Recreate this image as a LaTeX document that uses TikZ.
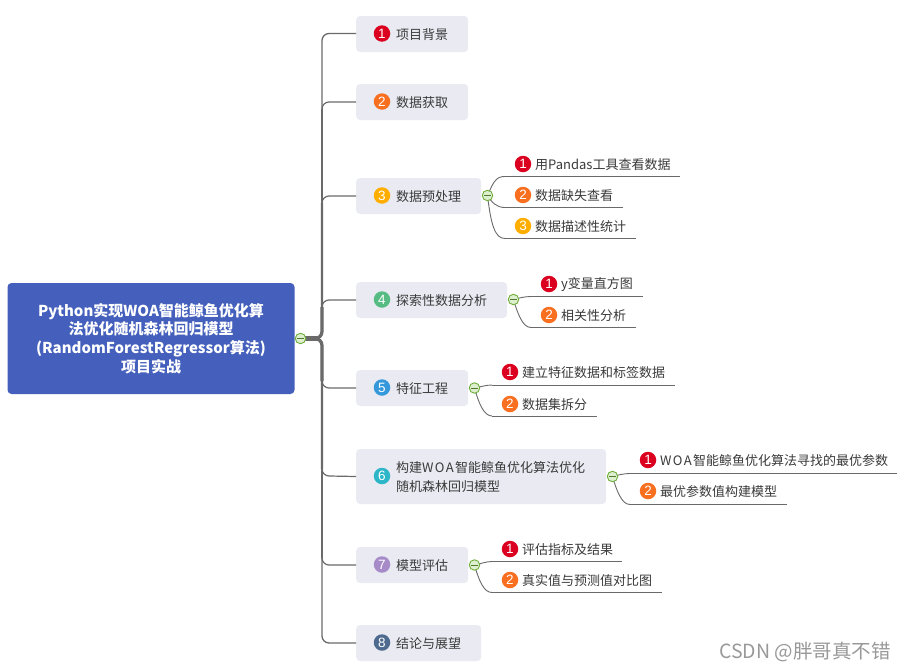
\documentclass[tikz,border=0pt]{standalone}
\usepackage{fontspec}
\setmainfont{Noto Sans CJK SC}
\newfontfamily\numfont{Liberation Sans}
\usetikzlibrary{calc}
\newcommand{\woaword}{W\kern1.3pt O\kern1.3pt A\kern1.3pt}
\definecolor{boxfill}{HTML}{E9EAF2}
\definecolor{rootfill}{HTML}{4460BC}
\definecolor{ink}{HTML}{3A3A3A}
\definecolor{wire}{HTML}{6A6A6A}
\definecolor{cA}{HTML}{DC0020}
\definecolor{cB}{HTML}{F86F20}
\definecolor{cC}{HTML}{FFAE00}
\definecolor{cD}{HTML}{56BC84}
\definecolor{cE}{HTML}{3498DB}
\definecolor{cF}{HTML}{2DB5C8}
\definecolor{cG}{HTML}{A78BC8}
\definecolor{cH}{HTML}{4F6A8F}
\definecolor{togline}{HTML}{6FAE3A}
\definecolor{togfill}{HTML}{DDEFCF}
\tikzset{
  x=1pt,y=-1pt,
  boxnode/.style={fill=boxfill,rounded corners=4pt,anchor=west,inner sep=0pt,minimum height=36pt},
  rootnode/.style={fill=rootfill,rounded corners=4pt,inner sep=0pt,minimum width=287pt,minimum height=111pt,
    text=white,align=center,font=\fontsize{15}{18.8}\selectfont\bfseries},
  lab/.style={anchor=west,inner sep=0pt,yshift=-0.8pt,text=ink,font=\fontsize{13}{19}\selectfont,align=left},
  badge/.style={circle,fill=#1,minimum size=16.5pt,inner sep=0pt,text=white,font=\numfont\fontsize{13.5}{13.5}\selectfont},
  toggle/.style={circle,draw=togline,fill=togfill,line width=0.9pt,minimum size=10.5pt,inner sep=0pt,
    path picture={\draw[draw=togline!70!black,line width=1pt] ([xshift=2pt]path picture bounding box.west) -- ([xshift=-2pt]path picture bounding box.east);}},
  leafwire/.style={draw=wire,line width=0.9pt},
  trunk/.style={draw=wire,line width=#1,rounded corners=7pt},
  spur/.style={draw=wire,line width=1.2pt},
}
\newcommand{\leafitem}[8]{%
  \node[badge=#6] (#1b) at (#2,#3) {#7};
  \node[lab] (#1t) at (#2+12,#3) {#8};
  \coordinate (#1s) at (#2-18,#4);
  \coordinate (#1e) at (#5,#4);
  \draw[leafwire] (#1s) -- (#1e);
}
\begin{document}
\begin{tikzpicture}
\useasboundingbox (0,0) rectangle (906,672);
\fill[white] (0,0) rectangle (906,672);

\coordinate (hub) at (319,338.5);
\coordinate (tc) at (322,338.5);
\coordinate (up1) at (322,33.5);
\coordinate (up2) at (322,102);
\coordinate (up3) at (322,196);
\coordinate (up4) at (322,300);
\coordinate (dn5) at (322,388);
\coordinate (dn6) at (322,476);
\coordinate (dn7) at (322,565);
\coordinate (dn8) at (322,643);

% boxes
\node[boxnode,minimum width=112pt] (b1) at (356,34) {};
\node[boxnode,minimum width=112pt] (b2) at (356,102) {};
\node[boxnode,minimum width=125pt] (b3) at (356,196) {};
\node[boxnode,minimum width=151pt] (b4) at (356,300) {};
\node[boxnode,minimum width=112pt] (b5) at (356,388) {};
\node[boxnode,minimum width=250pt,minimum height=55pt] (b6) at (356,476.5) {};
\node[boxnode,minimum width=112pt] (b7) at (356,565) {};
\node[boxnode,minimum width=125pt] (b8) at (356,643) {};

\node[rootnode] (root) at (151,338.5) {Python实现WOA智能鲸鱼优化算\\法优化随机森林回归模型\\(RandomForestRegressor算法)\\项目实战};

% branches
\draw[trunk=1.3pt] (hub) -- (tc) -- (up1) -- (b1.west |- up1);
\draw[trunk=1.3pt] (hub) -- (tc) -- (dn8) -- (b8.west);
\draw[trunk=1.8pt] (hub) -- (tc) -- ([yshift=-7pt]up2);
\draw[spur] ([yshift=-7pt]up2) to[out=90,in=180] ([xshift=7pt]up2) -- (b2.west);
\draw[trunk=2.4pt] (hub) -- (tc) -- ([yshift=-7pt]up3);
\draw[spur] ([yshift=-7pt]up3) to[out=90,in=180] ([xshift=7pt]up3) -- (b3.west);
\draw[trunk=3.2pt] (hub) -- (tc) -- ([yshift=-7pt]up4);
\draw[spur] ([yshift=-7pt]up4) to[out=90,in=180] ([xshift=7pt]up4) -- (b4.west);
\draw[trunk=1.8pt] (hub) -- (tc) -- ([yshift=7pt]dn7);
\draw[spur] ([yshift=7pt]dn7) to[out=-90,in=180] ([xshift=7pt]dn7) -- (b7.west);
\draw[trunk=2.4pt] (hub) -- (tc) -- ([yshift=7pt]dn6);
\draw[spur] ([yshift=7pt]dn6) to[out=-90,in=180] ([xshift=7pt]dn6) -- (b6.west);
\draw[trunk=3.2pt] (hub) -- (tc) -- ([yshift=7pt]dn5);
\draw[spur] ([yshift=7pt]dn5) to[out=-90,in=180] ([xshift=7pt]dn5) -- (b5.west);
\coordinate (rs) at (300.5,338.5);
\draw[draw=wire,line width=4.6pt] (rs) -- (hub);
\node[toggle] (rt) at (rs) {};

% box badges and labels
\node[badge=cA] (n1) at (382,33.5) {1};
\node[lab] (l1) at (396,33.5) {项目背景};
\node[badge=cB] (n2) at (382,101.5) {2};
\node[lab] (l2) at (396,101.5) {数据获取};
\node[badge=cC] (n3) at (382,195.5) {3};
\node[lab] (l3) at (396,195.5) {数据预处理};
\node[badge=cD] (n4) at (382,299.5) {4};
\node[lab] (l4) at (396,299.5) {探索性数据分析};
\node[badge=cE] (n5) at (382,387.5) {5};
\node[lab] (l5) at (396,387.5) {特征工程};
\node[badge=cF] (n6) at (382,476) {6};
\node[lab] (l6a) at (396,467) {构建\woaword 智能鲸鱼优化算法优化};
\node[lab] (l6b) at (396,486) {随机森林回归模型};
\node[badge=cG] (n7) at (382,564.5) {7};
\node[lab] (l7) at (396,564.5) {模型评估};
\node[badge=cH] (n8) at (382,642.5) {8};
\node[lab] (l8) at (396,642.5) {结论与展望};

% leaves
\leafitem{a}{523}{164}{176.5}{680}{cA}{1}{用Pandas工具查看数据}
\leafitem{b}{523}{195}{207.5}{623}{cB}{2}{数据缺失查看}
\leafitem{c}{523}{226}{238.5}{636}{cC}{3}{数据描述性统计}
\leafitem{d}{549}{284}{296.5}{643}{cA}{1}{y变量直方图}
\leafitem{e}{549}{315}{327.5}{636}{cB}{2}{相关性分析}
\leafitem{f}{510}{372}{385}{675}{cA}{1}{建立特征数据和标签数据}
\leafitem{g}{510}{404}{416}{597}{cB}{2}{数据集拆分}
\leafitem{h}{648}{460}{473.5}{897}{cA}{1}{\woaword 智能鲸鱼优化算法寻找的最优参数}
\leafitem{i}{648}{491}{504.5}{787}{cB}{2}{最优参数值构建模型}
\leafitem{j}{510}{549}{561.5}{622}{cA}{1}{评估指标及结果}
\leafitem{k}{510}{580}{592.5}{662}{cB}{2}{真实值与预测值对比图}

% toggle points and child curves
\coordinate (p3) at (487.5,195.5);
\coordinate (p4) at (513.5,299.5);
\coordinate (p5) at (474.5,388);
\coordinate (p6) at (612.5,476.5);
\coordinate (p7) at (474.5,565);
\draw[leafwire] (p3) .. controls (494,180) and (497,176.5) .. (as);
\draw[leafwire] (p3) .. controls (492,203) and (497,207.5) .. (bs);
\draw[leafwire] (p3) .. controls (491,225) and (495,238.5) .. (cs);
\draw[leafwire] (p4) .. controls (519,298) and (525,296.5) .. (ds);
\draw[leafwire] (p4) .. controls (518,315) and (523,327.5) .. (es);
\draw[leafwire] (p5) .. controls (480,387) and (486,385) .. (fs);
\draw[leafwire] (p5) .. controls (479,404) and (484,416) .. (gs);
\draw[leafwire] (p6) .. controls (618,475) and (624,473.5) .. (hs);
\draw[leafwire] (p6) .. controls (617,492) and (622,504.5) .. (is);
\draw[leafwire] (p7) .. controls (480,564) and (486,561.5) .. (js);
\draw[leafwire] (p7) .. controls (479,581) and (484,592.5) .. (ks);
\node[toggle] (t3) at (p3) {};
\node[toggle] (t4) at (p4) {};
\node[toggle] (t5) at (p5) {};
\node[toggle] (t6) at (p6) {};
\node[toggle] (t7) at (p7) {};

\node[anchor=east,inner sep=0pt,text=black!40,font=\fontsize{19.5}{22}\selectfont] (wm) at (891,652) {CSDN @胖哥真不错};
\end{tikzpicture}
\end{document}
